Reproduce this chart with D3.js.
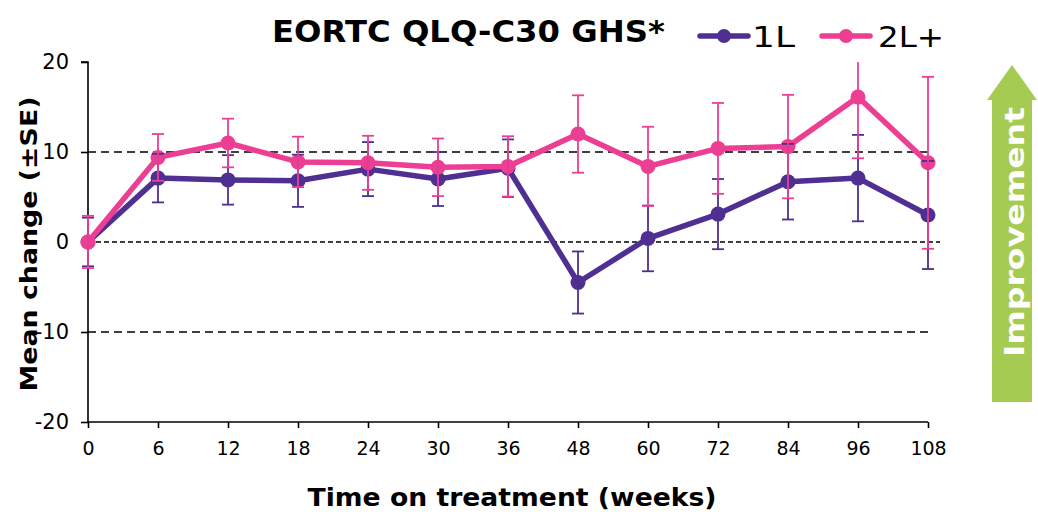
<!DOCTYPE html>
<html>
<head>
<meta charset="utf-8">
<script src="https://cdn.jsdelivr.net/npm/d3@7"></script>
<style>
  html, body { margin: 0; padding: 0; background: #fff; }
  svg { display: block; }
</style>
</head>
<body>
<svg id="chart" width="1038" height="512"></svg>
<script>
// Time points (weeks) shown as evenly spaced categories
const weeks = ["0", "6", "12", "18", "24", "30", "36", "48", "60", "72", "84", "96", "108"];

// Mean change from baseline, first-line patients
const mean1L = [0, 7.1, 6.9, 6.8, 8.1, 7.0, 8.2, -4.5, 0.4, 3.1, 6.7, 7.1, 3.0];
const se1L   = [2.7, 2.7, 2.75, 2.9, 3.0, 3.0, 3.2, 3.45, 3.65, 3.9, 4.2, 4.8, 6.0];

// Mean change from baseline, second-line or later patients
const mean2L = [0, 9.4, 11.0, 8.9, 8.8, 8.3, 8.4, 12.0, 8.4, 10.4, 10.6, 16.1, 8.8];
const se2L   = [2.9, 2.6, 2.7, 2.8, 3.0, 3.2, 3.35, 4.3, 4.4, 5.05, 5.75, 6.8, 9.55];

const yTicks = [-20, -10, 0, 10, 20];
const refLines = [10, 0, -10];

const seriesNames = ["1L", "2L+"];
const colors = { "1L": "#4f2f91", "2L+": "#ec3f94" };

const svg = d3.select("#chart");
const FONT = "'DejaVu Sans', Verdana, sans-serif";

const x = d3.scalePoint().domain(weeks).range([88, 928]);
const y = d3.scaleLinear().domain([-20, 20]).range([422, 62]);

// Dashed reference lines
const dashFor = v => v === 0 ? "5,3" : "8,5";
const endFor = v => v === 0 ? 940 : 928;
svg.append("g").selectAll("line").data(refLines).join("line")
  .attr("x1", x("0")).attr("x2", d => endFor(d))
  .attr("y1", d => y(d)).attr("y2", d => y(d))
  .attr("stroke", "#000").attr("stroke-width", 1.6)
  .attr("stroke-dasharray", d => dashFor(d));

// Y axis
const yAxis = svg.append("g")
  .attr("transform", `translate(${x("0")},0)`)
  .call(d3.axisLeft(y).tickValues(yTicks).tickSize(7).tickPadding(12).tickFormat(d => String(d)));
yAxis.select(".domain").attr("stroke", "#000").attr("stroke-width", 1.6).attr("d", `M-7,${y(20)}H0V${y(-20)}`);
yAxis.selectAll(".tick line").attr("stroke", "#000").attr("stroke-width", 1.6);
yAxis.selectAll(".tick text").attr("font-family", FONT).attr("font-size", 21).attr("fill", "#000");

// X axis
const xAxis = svg.append("g")
  .attr("transform", `translate(0,${y(-20)})`)
  .call(d3.axisBottom(x).tickSize(6).tickPadding(14));
xAxis.select(".domain").attr("stroke", "#000").attr("stroke-width", 1.6).attr("d", `M${x("0")},0H${x("108")}`);
xAxis.selectAll(".tick line").attr("stroke", "#000").attr("stroke-width", 1.6);
xAxis.selectAll(".tick text").attr("font-family", FONT).attr("font-size", 19).attr("fill", "#000");

// Series
const series = [
  { name: "1L", mean: mean1L, se: se1L },
  { name: "2L+", mean: mean2L, se: se2L }
];

svg.append("clipPath").attr("id", "plotClip")
  .append("rect").attr("x", 60).attr("y", y(20)).attr("width", 960).attr("height", y(-20) - y(20));

const line = d3.line().x((d, i) => x(weeks[i])).y(d => y(d));

series.forEach(s => {
  const g = svg.append("g");
  g.append("path").datum(s.mean)
    .attr("d", line).attr("fill", "none")
    .attr("stroke", colors[s.name]).attr("stroke-width", 5.5)
    .attr("stroke-linejoin", "round");
  g.selectAll("circle").data(s.mean).join("circle")
    .attr("cx", (d, i) => x(weeks[i])).attr("cy", d => y(d))
    .attr("r", 7.5).attr("fill", colors[s.name]);
});

// Error bars (±SE), drawn over the lines
series.forEach(s => {
  const g = svg.append("g").attr("clip-path", "url(#plotClip)");
  const rows = s.mean.map((m, i) => ({ w: weeks[i], lo: m - s.se[i], hi: m + s.se[i] }));
  g.selectAll("line.v").data(rows).join("line").attr("class", "v")
    .attr("x1", d => x(d.w)).attr("x2", d => x(d.w))
    .attr("y1", d => y(d.lo)).attr("y2", d => y(d.hi))
    .attr("stroke", colors[s.name]).attr("stroke-width", 1.8);
  ["lo", "hi"].forEach(k => {
    g.selectAll("line." + k).data(rows.filter(d => d[k] <= 20 && d[k] >= -20)).join("line").attr("class", k)
      .attr("x1", d => x(d.w) - 6).attr("x2", d => x(d.w) + 6)
      .attr("y1", d => y(d[k])).attr("y2", d => y(d[k]))
      .attr("stroke", colors[s.name]).attr("stroke-width", 1.8);
  });
});

// Title
svg.append("text")
  .attr("x", 272).attr("y", 42)
  .attr("font-family", FONT).attr("font-weight", "bold").attr("font-size", 30)
  .attr("textLength", 393).attr("lengthAdjust", "spacingAndGlyphs")
  .text("EORTC QLQ-C30 GHS*");

// Legend
const legendPos = [{ name: "1L", x0: 700, tx: 752, w: 43 }, { name: "2L+", x0: 822, tx: 878, w: 66 }];
legendPos.forEach(p => {
  const g = svg.append("g");
  g.append("line").attr("x1", p.x0).attr("x2", p.x0 + 48).attr("y1", 36).attr("y2", 36)
    .attr("stroke", colors[p.name]).attr("stroke-width", 5.5).attr("stroke-linecap", "round");
  g.append("circle").attr("cx", p.x0 + 24).attr("cy", 36).attr("r", 7).attr("fill", colors[p.name]);
  g.append("text").attr("x", p.tx).attr("y", 47)
    .attr("font-family", FONT).attr("font-size", 29)
    .attr("textLength", p.w).attr("lengthAdjust", "spacingAndGlyphs")
    .text(p.name);
});

// Axis titles
svg.append("text")
  .attr("transform", `translate(37,244) rotate(-90)`)
  .attr("text-anchor", "middle")
  .attr("font-family", FONT).attr("font-weight", "bold").attr("font-size", 23)
  .attr("textLength", 295).attr("lengthAdjust", "spacingAndGlyphs")
  .text("Mean change (±SE)");

svg.append("text")
  .attr("x", 512).attr("y", 506)
  .attr("text-anchor", "middle")
  .attr("font-family", FONT).attr("font-weight", "bold").attr("font-size", 25)
  .attr("textLength", 409).attr("lengthAdjust", "spacingAndGlyphs")
  .text("Time on treatment (weeks)");

// Improvement arrow
const arrow = svg.append("g");
arrow.append("path")
  .attr("d", "M1012,65 L1037,100 L1032,100 L1032,402 L992,402 L992,100 L987,100 Z")
  .attr("fill", "#a6cb53");
arrow.append("text")
  .attr("transform", "translate(1024,232) rotate(-90)")
  .attr("text-anchor", "middle")
  .attr("font-family", FONT).attr("font-weight", "bold").attr("font-size", 27)
  .attr("textLength", 250).attr("lengthAdjust", "spacingAndGlyphs")
  .attr("fill", "#fff")
  .text("Improvement");
</script>
</body>
</html>
